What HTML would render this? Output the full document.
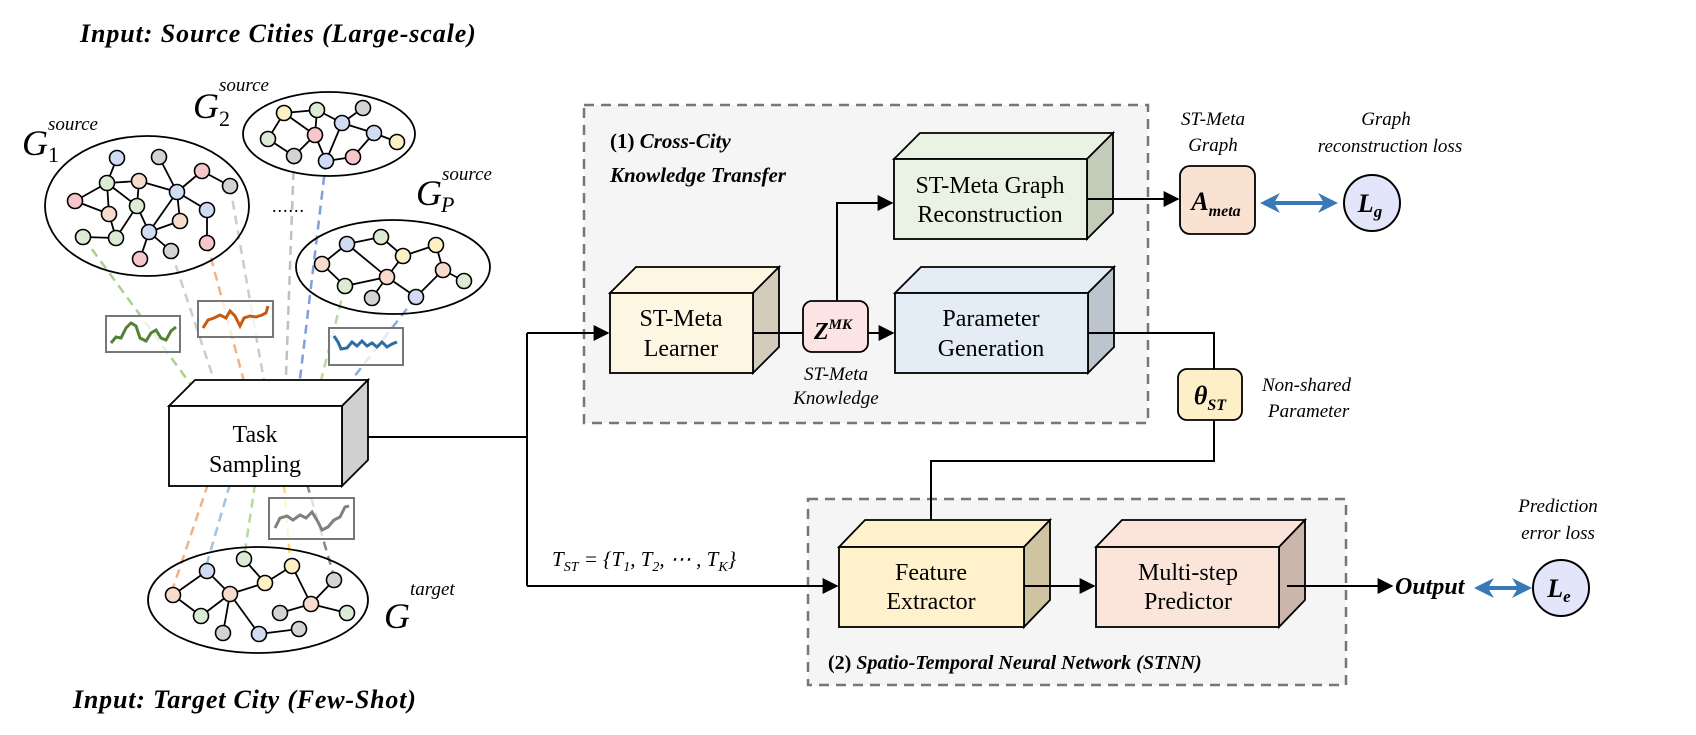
<!DOCTYPE html>
<html><head><meta charset="utf-8"><style>
body{margin:0;background:#fff}
svg{display:block}
text{font-family:"Liberation Serif",serif}
</style></head><body>
<svg width="1696" height="735" viewBox="0 0 1696 735" xmlns="http://www.w3.org/2000/svg">
<defs>
<marker id="ar" viewBox="0 0 10 10" refX="9" refY="5" markerWidth="8" markerHeight="8" orient="auto"><path d="M0,0 L10,5 L0,10 z" fill="#000"/></marker>
<marker id="bl" viewBox="0 0 10 10" refX="8" refY="5" markerWidth="5" markerHeight="5" orient="auto-start-reverse"><path d="M0,0 L10,5 L0,10 L3,5 z" fill="#3a78b8"/></marker>
</defs>

<!-- titles -->
<text x="80" y="42" font-size="26" font-weight="bold" font-style="italic" letter-spacing="0.9">Input: Source Cities (Large-scale)</text>
<text x="73" y="708" font-size="26" font-weight="bold" font-style="italic" letter-spacing="0.8">Input: Target City (Few-Shot)</text>

<!-- dashed containers -->
<rect x="584" y="105" width="564" height="318" fill="#f5f5f5" stroke="#777" stroke-width="2.5" stroke-dasharray="10,7"/>
<rect x="808" y="499" width="538" height="186" fill="#f5f5f5" stroke="#777" stroke-width="2.5" stroke-dasharray="10,7"/>

<!-- dashed colored lines (top) -->
<g stroke-width="2.5" stroke-dasharray="9,6" fill="none">
<line x1="83" y1="237" x2="205" y2="404" stroke="#a9d18e"/>
<line x1="171" y1="251" x2="222" y2="404" stroke="#cccccc"/>
<line x1="207" y1="243" x2="250" y2="404" stroke="#f4b183"/>
<line x1="230" y1="186" x2="268" y2="404" stroke="#cccccc"/>
<line x1="294" y1="156" x2="285" y2="404" stroke="#c0c0c0"/>
<line x1="326" y1="161" x2="297" y2="404" stroke="#7f9fdc"/>
<line x1="345" y1="286" x2="315" y2="404" stroke="#b7d9a0"/>
<line x1="416" y1="297" x2="333" y2="404" stroke="#8faadc"/>
<!-- bottom -->
<line x1="208" y1="484" x2="173" y2="588" stroke="#f4b183"/>
<line x1="230" y1="484" x2="207" y2="563" stroke="#9dc3e6"/>
<line x1="255" y1="484" x2="245" y2="551" stroke="#b7d9a0"/>
<line x1="284" y1="484" x2="290" y2="560" stroke="#ffd966"/>
<line x1="307" y1="484" x2="333" y2="573" stroke="#888"/>
</g>

<!-- signal boxes -->
<rect x="106" y="316" width="74" height="36" fill="#fff" fill-opacity="0.75" stroke="#777" stroke-width="2"/>
<polyline points="111,343 116,337 121,338 126,328 131,323 136,326 140,338 146,341 151,333 156,330 161,338 166,340 171,331 176,327" fill="none" stroke="#548235" stroke-width="3"/>
<rect x="198" y="301" width="75" height="36" fill="#fff" fill-opacity="0.75" stroke="#777" stroke-width="2"/>
<polyline points="203,328 208,320 214,318 220,315 226,318 230,311 235,316 240,326 244,318 250,316 256,317 262,315 266,313 268,306" fill="none" stroke="#c55a11" stroke-width="3"/>
<rect x="329" y="328" width="74" height="37" fill="#fff" fill-opacity="0.75" stroke="#777" stroke-width="2"/>
<polyline points="334,336 338,342 341,349 347,348 352,342 357,346 362,341 367,346 372,343 377,347 382,342 387,347 392,344 397,342" fill="none" stroke="#2e6da4" stroke-width="3"/>
<rect x="269" y="498" width="85" height="41" fill="#fff" fill-opacity="0.75" stroke="#777" stroke-width="2"/>
<polyline points="275,528 280,518 287,516 293,520 300,515 306,518 312,512 318,522 322,530 328,527 334,520 340,517 345,507 349,506" fill="none" stroke="#808080" stroke-width="3"/>

<!-- graphs -->
<g stroke="#000" stroke-width="1.8" fill="none">
<ellipse cx="147" cy="206" rx="102" ry="70"/>
<ellipse cx="329" cy="134" rx="86" ry="42"/>
<ellipse cx="393" cy="267" rx="97" ry="47"/>
<ellipse cx="258" cy="600" rx="110" ry="53"/>
<path d="M117,158L107,183M107,183L139,181M107,183L75,201M107,183L109,214M75,201L109,214M107,183L137,206M139,181L137,206M139,181L177,192M137,206L116,238M109,214L116,238M116,238L83,237M177,192L159,157M177,192L202,171M202,171L230,186M177,192L207,210M177,192L149,232M177,192L180,221M207,210L207,243M149,232L180,221M149,232L140,259M149,232L171,251M137,206L149,232"/>
<path d="M284,113L317,110M284,113L315,135M284,113L268,139M268,139L294,156M294,156L315,135M315,135L317,110M315,135L326,161M317,110L342,123M342,123L363,108M342,123L374,133M374,133L397,142M374,133L353,157M353,157L326,161M342,123L326,161"/>
<path d="M347,244L381,237M347,244L322,264M322,264L345,286M347,244L387,277M345,286L387,277M387,277L372,298M387,277L403,256M403,256L436,245M403,256L381,237M436,245L443,270M443,270L464,281M443,270L416,297M387,277L416,297"/>
<path d="M173,595L207,571M207,571L230,594M173,595L201,616M201,616L230,594M230,594L265,583M265,583L292,566M292,566L311,604M230,594L223,633M230,594L259,634M259,634L299,629M311,604L280,613M311,604L334,580M311,604L347,613M244,559L265,583"/>
</g>
<g stroke="#000" stroke-width="1.6">
<circle cx="117" cy="158" r="7.5" fill="#cfdcf3"/><circle cx="159" cy="157" r="7.5" fill="#d3d3d3"/>
<circle cx="107" cy="183" r="7.5" fill="#dcebd3"/><circle cx="139" cy="181" r="7.5" fill="#f8dccb"/>
<circle cx="75" cy="201" r="7.5" fill="#f7c6cb"/><circle cx="109" cy="214" r="7.5" fill="#f8dccb"/>
<circle cx="137" cy="206" r="7.5" fill="#dcebd3"/><circle cx="177" cy="192" r="7.5" fill="#cfdcf3"/>
<circle cx="202" cy="171" r="7.5" fill="#f7c6cb"/><circle cx="230" cy="186" r="7.5" fill="#d3d3d3"/>
<circle cx="207" cy="210" r="7.5" fill="#cfdcf3"/><circle cx="180" cy="221" r="7.5" fill="#f8dccb"/>
<circle cx="149" cy="232" r="7.5" fill="#cfdcf3"/><circle cx="116" cy="238" r="7.5" fill="#dcebd3"/>
<circle cx="83" cy="237" r="7.5" fill="#dcebd3"/><circle cx="140" cy="259" r="7.5" fill="#f7c6cb"/>
<circle cx="171" cy="251" r="7.5" fill="#d3d3d3"/><circle cx="207" cy="243" r="7.5" fill="#f7c6cb"/>
<circle cx="284" cy="113" r="7.5" fill="#fdf0c2"/><circle cx="317" cy="110" r="7.5" fill="#dcebd3"/>
<circle cx="363" cy="108" r="7.5" fill="#d3d3d3"/><circle cx="342" cy="123" r="7.5" fill="#cfdcf3"/>
<circle cx="315" cy="135" r="7.5" fill="#f7c6cb"/><circle cx="374" cy="133" r="7.5" fill="#cfdcf3"/>
<circle cx="397" cy="142" r="7.5" fill="#fdf0c2"/><circle cx="268" cy="139" r="7.5" fill="#dcebd3"/>
<circle cx="294" cy="156" r="7.5" fill="#d3d3d3"/><circle cx="326" cy="161" r="7.5" fill="#cfdcf3"/>
<circle cx="353" cy="157" r="7.5" fill="#f7c6cb"/>
<circle cx="347" cy="244" r="7.5" fill="#cfdcf3"/><circle cx="381" cy="237" r="7.5" fill="#dcebd3"/>
<circle cx="436" cy="245" r="7.5" fill="#fdf0c2"/><circle cx="403" cy="256" r="7.5" fill="#fdf0c2"/>
<circle cx="322" cy="264" r="7.5" fill="#f8dccb"/><circle cx="443" cy="270" r="7.5" fill="#f8dccb"/>
<circle cx="464" cy="281" r="7.5" fill="#dcebd3"/><circle cx="387" cy="277" r="7.5" fill="#f8dccb"/>
<circle cx="345" cy="286" r="7.5" fill="#dcebd3"/><circle cx="372" cy="298" r="7.5" fill="#d3d3d3"/>
<circle cx="416" cy="297" r="7.5" fill="#cfdcf3"/>
<circle cx="173" cy="595" r="7.5" fill="#f8dccb"/><circle cx="207" cy="571" r="7.5" fill="#cfdcf3"/>
<circle cx="244" cy="559" r="7.5" fill="#dcebd3"/><circle cx="230" cy="594" r="7.5" fill="#f8dccb"/>
<circle cx="265" cy="583" r="7.5" fill="#fdf0c2"/><circle cx="292" cy="566" r="7.5" fill="#fdf0c2"/>
<circle cx="201" cy="616" r="7.5" fill="#dcebd3"/><circle cx="223" cy="633" r="7.5" fill="#d3d3d3"/>
<circle cx="259" cy="634" r="7.5" fill="#cfdcf3"/><circle cx="299" cy="629" r="7.5" fill="#d3d3d3"/>
<circle cx="311" cy="604" r="7.5" fill="#f8dccb"/><circle cx="280" cy="613" r="7.5" fill="#d3d3d3"/>
<circle cx="334" cy="580" r="7.5" fill="#d3d3d3"/><circle cx="347" cy="613" r="7.5" fill="#dcebd3"/>
</g>

<!-- graph labels -->
<text x="22" y="155" font-size="36" font-style="italic">G</text><text x="48" y="162" font-size="22">1</text><text x="48" y="130" font-size="19" font-style="italic">source</text>
<text x="193" y="118" font-size="36" font-style="italic">G</text><text x="219" y="126" font-size="22">2</text><text x="219" y="91" font-size="19" font-style="italic">source</text>
<text x="416" y="205" font-size="36" font-style="italic">G</text><text x="441" y="212" font-size="22" font-style="italic">P</text><text x="442" y="180" font-size="19" font-style="italic">source</text>
<text x="384" y="628" font-size="36" font-style="italic">G</text><text x="410" y="595" font-size="19" font-style="italic">target</text>
<text x="272" y="212" font-size="18" letter-spacing="1">......</text>

<!-- Task Sampling cube -->
<g stroke="#000" stroke-width="1.8">
<polygon points="169,406 195,380 368,380 342,406" fill="#fff"/>
<polygon points="342,406 368,380 368,460 342,486" fill="#d0d0d0"/>
<rect x="169" y="406" width="173" height="80" fill="#fff"/>
</g>
<text x="255" y="442" font-size="24" text-anchor="middle">Task</text>
<text x="255" y="472" font-size="24" text-anchor="middle">Sampling</text>

<!-- connectors left -->
<g stroke="#000" stroke-width="2" fill="none">
<polyline points="368,437 527,437"/>
<polyline points="527,333 527,586"/>
<line x1="527" y1="333" x2="608" y2="333" marker-end="url(#ar)"/>
<line x1="527" y1="586" x2="837" y2="586" marker-end="url(#ar)"/>
</g>
<text x="552" y="566" font-size="21" font-style="italic">T<tspan font-size="14" dy="5">ST</tspan><tspan dy="-5"> = {T</tspan><tspan font-size="14" dy="5">1</tspan><tspan dy="-5">, T</tspan><tspan font-size="14" dy="5">2</tspan><tspan dy="-5">, ⋯ , T</tspan><tspan font-size="14" dy="5">K</tspan><tspan dy="-5">}</tspan></text>

<!-- Learner cube -->
<g stroke="#000" stroke-width="1.8">
<polygon points="610,293 636,267 779,267 753,293" fill="#fdf6e3"/>
<polygon points="753,293 779,267 779,347 753,373" fill="#d3ccba"/>
<rect x="610" y="293" width="143" height="80" fill="#fdf6e3"/>
</g>
<text x="681" y="326" font-size="24" text-anchor="middle">ST-Meta</text>
<text x="681" y="356" font-size="24" text-anchor="middle">Learner</text>

<!-- Recon cube -->
<g stroke="#000" stroke-width="1.8">
<polygon points="894,159 920,133 1113,133 1087,159" fill="#eaf3e3"/>
<polygon points="1087,159 1113,133 1113,213 1087,239" fill="#c3cbb9"/>
<rect x="894" y="159" width="193" height="80" fill="#eaf3e3"/>
</g>
<text x="990" y="193" font-size="24" text-anchor="middle">ST-Meta Graph</text>
<text x="990" y="222" font-size="24" text-anchor="middle">Reconstruction</text>

<!-- ParamGen cube -->
<g stroke="#000" stroke-width="1.8">
<polygon points="895,293 921,267 1114,267 1088,293" fill="#e4ecf6"/>
<polygon points="1088,293 1114,267 1114,347 1088,373" fill="#bcc4ce"/>
<rect x="895" y="293" width="193" height="80" fill="#e4ecf6"/>
</g>
<text x="991" y="326" font-size="24" text-anchor="middle">Parameter</text>
<text x="991" y="356" font-size="24" text-anchor="middle">Generation</text>

<g stroke="#000" stroke-width="2" fill="none">
<line x1="753" y1="333" x2="803" y2="333"/>
<line x1="868" y1="333" x2="893" y2="333" marker-end="url(#ar)"/>
<polyline points="837,301 837,203 892,203" marker-end="url(#ar)"/>
<line x1="1087" y1="199" x2="1178" y2="199" marker-end="url(#ar)"/>
<polyline points="1088,333 1214,333 1214,369"/>
<polyline points="1214,420 1214,461 931,461 931,544" marker-end="url(#ar)"/>
</g>
<rect x="803" y="301" width="65" height="51" rx="9" fill="#fde4e4" stroke="#000" stroke-width="1.8"/>
<text x="833" y="339" font-size="24" font-weight="bold" font-style="italic" text-anchor="middle">Z<tspan font-size="15" dy="-10">MK</tspan></text>
<text x="836" y="380" font-size="19" font-style="italic" text-anchor="middle">ST-Meta</text>
<text x="836" y="404" font-size="19" font-style="italic" text-anchor="middle">Knowledge</text>

<text x="610" y="148" font-size="21" font-weight="bold">(1) <tspan font-style="italic">Cross-City</tspan></text>
<text x="610" y="182" font-size="21" font-weight="bold" font-style="italic">Knowledge Transfer</text>

<!-- Ameta -->
<rect x="1180" y="166" width="75" height="68" rx="10" fill="#f9e2d2" stroke="#000" stroke-width="1.8"/>
<text x="1216" y="210" font-size="26" font-weight="bold" font-style="italic" text-anchor="middle">A<tspan font-size="16" dy="6">meta</tspan></text>
<text x="1213" y="125" font-size="19" font-style="italic" text-anchor="middle">ST-Meta</text>
<text x="1213" y="151" font-size="19" font-style="italic" text-anchor="middle">Graph</text>
<line x1="1264" y1="203" x2="1334" y2="203" stroke="#3a78b8" stroke-width="4" marker-start="url(#bl)" marker-end="url(#bl)"/>
<circle cx="1372" cy="203" r="28" fill="#e3e6fa" stroke="#000" stroke-width="2"/>
<text x="1370" y="212" font-size="26" font-weight="bold" font-style="italic" text-anchor="middle">L<tspan font-size="17" dy="5">g</tspan></text>
<text x="1386" y="125" font-size="19" font-style="italic" text-anchor="middle">Graph</text>
<text x="1390" y="152" font-size="19" font-style="italic" text-anchor="middle">reconstruction loss</text>

<!-- theta -->
<rect x="1178" y="369" width="64" height="51" rx="9" fill="#fdf0c8" stroke="#000" stroke-width="1.8"/>
<text x="1210" y="404" font-size="26" font-weight="bold" font-style="italic" text-anchor="middle">θ<tspan font-size="16" dy="6">ST</tspan></text>
<text x="1262" y="391" font-size="19" font-style="italic">Non-shared</text>
<text x="1268" y="417" font-size="19" font-style="italic">Parameter</text>

<!-- FE cube -->
<g stroke="#000" stroke-width="1.8">
<polygon points="839,547 865,520 1050,520 1024,547" fill="#fff1cc"/>
<polygon points="1024,547 1050,520 1050,600 1024,627" fill="#cfc4a2"/>
<rect x="839" y="547" width="185" height="80" fill="#fff1cc"/>
</g>
<text x="931" y="580" font-size="24" text-anchor="middle">Feature</text>
<text x="931" y="609" font-size="24" text-anchor="middle">Extractor</text>

<!-- Multi cube -->
<g stroke="#000" stroke-width="1.8">
<polygon points="1096,547 1122,520 1305,520 1279,547" fill="#fbe5da"/>
<polygon points="1279,547 1305,520 1305,600 1279,627" fill="#cbb6ab"/>
<rect x="1096" y="547" width="183" height="80" fill="#fbe5da"/>
</g>
<text x="1188" y="580" font-size="24" text-anchor="middle">Multi-step</text>
<text x="1188" y="609" font-size="24" text-anchor="middle">Predictor</text>

<g stroke="#000" stroke-width="2" fill="none">
<line x1="1024" y1="586" x2="1094" y2="586" marker-end="url(#ar)"/>
<line x1="1287" y1="586" x2="1392" y2="586" marker-end="url(#ar)"/>
</g>
<text x="1395" y="594" font-size="24" font-weight="bold" font-style="italic">Output</text>
<line x1="1478" y1="588" x2="1528" y2="588" stroke="#3a78b8" stroke-width="4" marker-start="url(#bl)" marker-end="url(#bl)"/>
<circle cx="1561" cy="588" r="28" fill="#e3e6fa" stroke="#000" stroke-width="2"/>
<text x="1559" y="597" font-size="26" font-weight="bold" font-style="italic" text-anchor="middle">L<tspan font-size="17" dy="5">e</tspan></text>
<text x="1558" y="512" font-size="19" font-style="italic" text-anchor="middle">Prediction</text>
<text x="1558" y="539" font-size="19" font-style="italic" text-anchor="middle">error loss</text>

<text x="828" y="669" font-size="20" font-weight="bold">(2) <tspan font-style="italic">Spatio-Temporal Neural Network (STNN)</tspan></text>
</svg>
</body></html>
